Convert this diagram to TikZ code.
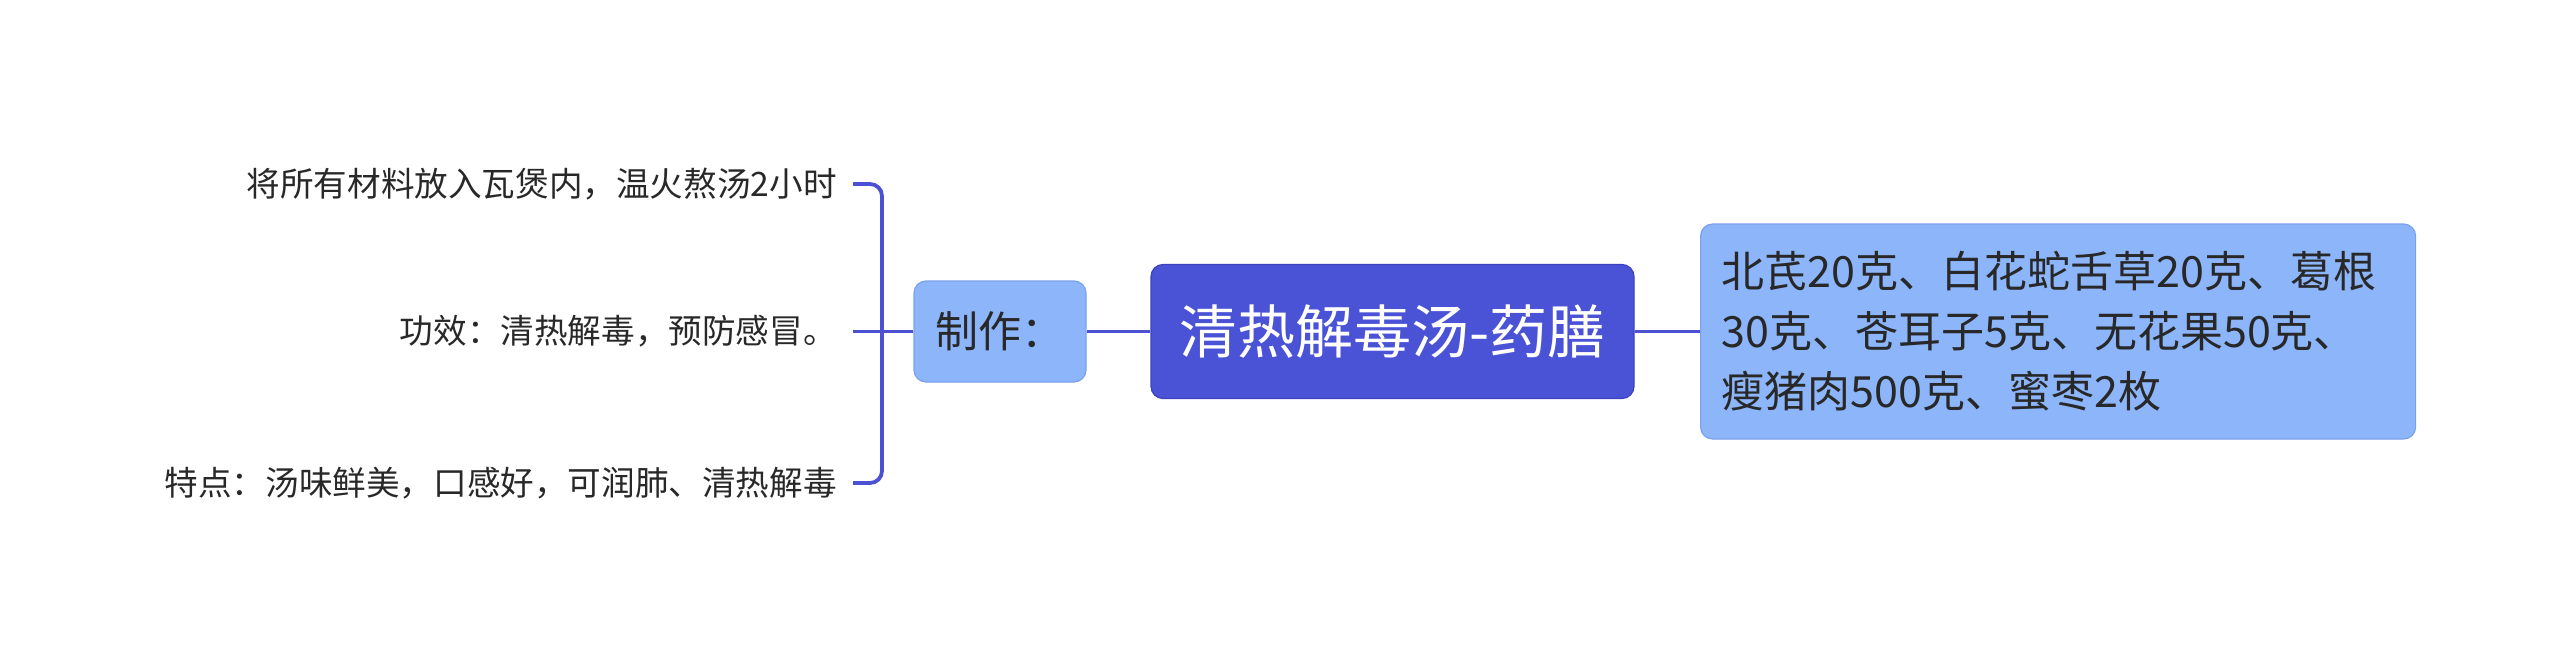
\documentclass[tikz,border=0pt]{standalone}
\usepackage{fontspec}
\setmainfont{Noto Sans CJK SC}
\definecolor{rootblue}{RGB}{74,82,214}
\definecolor{rootedge}{RGB}{60,66,190}
\definecolor{subblue}{RGB}{140,181,250}
\definecolor{subedge}{RGB}{122,162,236}
\definecolor{linkblue}{RGB}{76,80,210}
\definecolor{inkgray}{RGB}{40,40,40}
\begin{document}
\begin{tikzpicture}[x=0.5pt, y=-0.5pt,
	link/.style = {draw=linkblue, line width=1.9pt},
	subbox/.style = {fill=subblue, draw=subedge, line width=0.6pt, rounded corners=6pt, text=inkgray, inner sep=0pt},
	leaf/.style = {anchor=east, text=inkgray, inner xsep=8pt, font=\fontsize{16.8}{20}\selectfont}]
	\useasboundingbox (0,0) rectangle (2560,664);
	% centre
	\node [fill=rootblue, draw=rootedge, line width=0.6pt, rounded corners=6pt, text=white,
		minimum width=241.5pt, minimum height=67pt, font=\fontsize{29}{34}\selectfont] (root) at (1392.5,331.5) {清热解毒汤-药膳};
	% left side
	\node [subbox, minimum width=86pt, minimum height=50.5pt, font=\fontsize{21.5}{26}\selectfont] (make) at (1000,331.5) {制作：};
	\node [leaf] (leafTop) at (853,184) {将所有材料放入瓦煲内，温火熬汤2小时};
	\node [leaf] (leafMid) at (853,331.5) {功效：清热解毒，预防感冒。};
	\node [leaf] (leafBot) at (853,483) {特点：汤味鲜美，口感好，可润肺、清热解毒};
	% right side
	\node [subbox, anchor=west, inner xsep=10.5pt, text width=336.5pt, minimum height=107.5pt, align=left,
		font=\fontsize{21.5}{30}\selectfont] (detail) at (1700,331.5) {北芪20克、白花蛇舌草20克、葛根\\30克、苍耳子5克、无花果50克、\\瘦猪肉500克、蜜枣2枚};
	\coordinate (fork) at (882,331.5);
	\draw [link] (root.west) -- (make.east);
	\draw [link] (root.east) -- (detail.west);
	\draw [link] (make.west) -- (leafMid.east);
	\draw [link, rounded corners=6pt] (leafTop.east) -| (fork) |- (leafBot.east);
\end{tikzpicture}
\end{document}
